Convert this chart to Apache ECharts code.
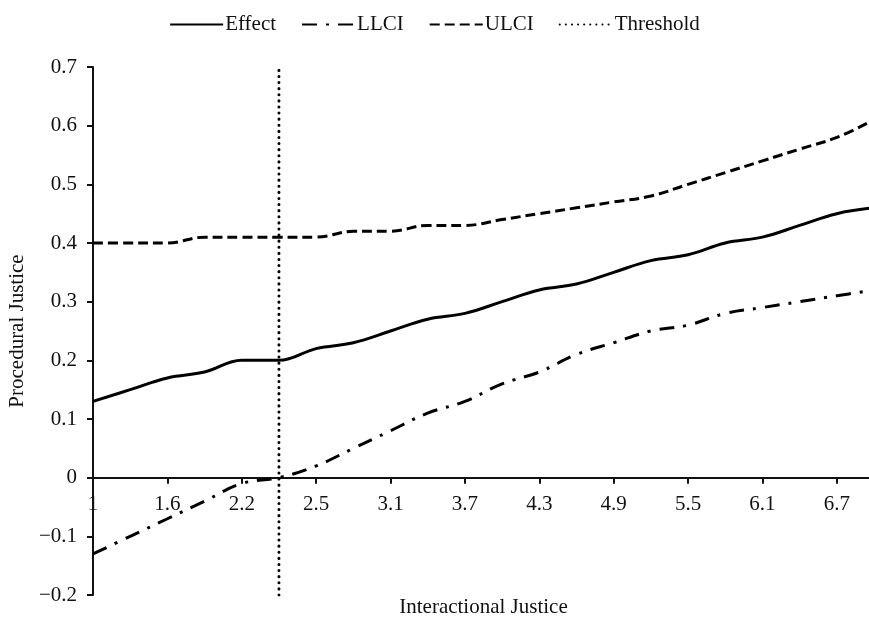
<!DOCTYPE html>
<html>
<head>
<meta charset="utf-8">
<script src="https://cdn.jsdelivr.net/npm/echarts@6/dist/echarts.min.js"></script>
<style>
html,body{margin:0;padding:0;background:#fff;}
#chart{width:869px;height:623px;}
</style>
</head>
<body>
<div id="chart"></div>
<script>
// Interactional Justice levels (categories); 2.38 is the threshold point
var categories = ['1','1.3','1.6','1.9','2.2','2.38','2.5','2.8','3.1','3.4','3.7','4.0','4.3','4.6','4.9','5.2','5.5','5.8','6.1','6.4','6.7','7.0'];
var effect = [0.13,0.15,0.17,0.18,0.20,0.20,0.22,0.23,0.25,0.27,0.28,0.30,0.32,0.33,0.35,0.37,0.38,0.40,0.41,0.43,0.45,0.46];
var llci   = [-0.13,-0.10,-0.07,-0.04,-0.01,0.00,0.02,0.05,0.08,0.11,0.13,0.16,0.18,0.21,0.23,0.25,0.26,0.28,0.29,0.30,0.31,0.32];
var ulci   = [0.40,0.40,0.40,0.41,0.41,0.41,0.41,0.42,0.42,0.43,0.43,0.44,0.45,0.46,0.47,0.48,0.50,0.52,0.54,0.56,0.58,0.61];
var thresholdX = '2.38';
var thresholdRange = [-0.2, 0.7];
var yMin = -0.2, yMax = 0.7, yStep = 0.1;

var FONT = 'Liberation Serif';
var FS = 21;
var INK = '#111';
var W = 869, H = 623;
var G = {left: 93, right: -5, top: 67, bottom: 28};
var gridH = H - G.top - G.bottom;
// shift the category axis up so it sits on y = 0 (line, ticks and labels together)
var zeroOffset = -gridH * (0 - yMin) / (yMax - yMin);

var chart = echarts.init(document.getElementById('chart'), null, {renderer:'canvas'});
var tIdx = categories.indexOf(thresholdX);

chart.setOption({
  animation: false,
  backgroundColor: '#fff',
  textStyle: {fontFamily: FONT, color: INK},
  legend: {
    top: 9, left: 'center',
    itemWidth: 53, itemHeight: 14, itemGap: 25,
    itemStyle: {opacity: 0},
    textStyle: {fontFamily: FONT, fontSize: FS, color: INK, padding: [0,0,0,-3]},
    data: ['Effect','LLCI','ULCI','Threshold']
  },
  grid: {left: G.left, right: G.right, top: G.top, bottom: G.bottom, containLabel: false, outerBoundsMode: 'none'},
  xAxis: {
    type: 'category',
    data: categories,
    boundaryGap: false,
    position: 'bottom',
    offset: zeroOffset,
    name: 'Interactional Justice',
    nameLocation: 'middle',
    nameGap: 119,
    nameTextStyle: {fontFamily: FONT, fontSize: FS, color: INK},
    axisLine: {onZero: false, lineStyle: {color: INK, width: 2}},
    axisTick: {show: true, interval: 1, length: 6, lineStyle: {color: INK, width: 2}},
    axisLabel: {interval: 1, fontFamily: FONT, fontSize: FS, color: INK, margin: 16},
    splitLine: {show: false}
  },
  yAxis: {
    type: 'value',
    min: yMin, max: yMax, interval: yStep,
    name: 'Procedural Justice',
    nameLocation: 'middle',
    nameGap: 65,
    nameTextStyle: {fontFamily: FONT, fontSize: FS, color: INK},
    axisLine: {show: true, lineStyle: {color: INK, width: 2}},
    axisTick: {show: true, length: 6, lineStyle: {color: INK, width: 2}},
    axisLabel: {
      fontFamily: FONT, fontSize: FS, color: INK, margin: 16,
      formatter: function (v) {
        var r = Math.round(v * 10) / 10;
        if (Math.abs(r) < 1e-9) return '0';
        return (r < 0 ? '\u2212' : '') + Math.abs(r).toFixed(1);
      }
    },
    splitLine: {show: false}
  },
  series: [
    {
      name: 'Effect', type: 'line', data: effect, smooth: 0.4,
      symbol: 'none', lineStyle: {color: '#000', width: 3}, itemStyle: {color: '#000'}
    },
    {
      name: 'LLCI', type: 'line', data: llci, smooth: 0.4,
      symbol: 'none', lineStyle: {color: '#000', width: 3, type: [15, 9, 3, 9]}, itemStyle: {color: '#000'}
    },
    {
      name: 'ULCI', type: 'line', data: ulci, smooth: 0.4,
      symbol: 'none', lineStyle: {color: '#000', width: 3, type: [10, 5]}, itemStyle: {color: '#000'}
    },
    {
      name: 'Threshold', type: 'line',
      data: [[tIdx, thresholdRange[0]], [tIdx, thresholdRange[1]]],
      symbol: 'none', lineStyle: {color: '#000', width: 3, type: [0.1, 6], cap: 'round'}, itemStyle: {color: '#000'}
    }
  ]
});
</script>
</body>
</html>
